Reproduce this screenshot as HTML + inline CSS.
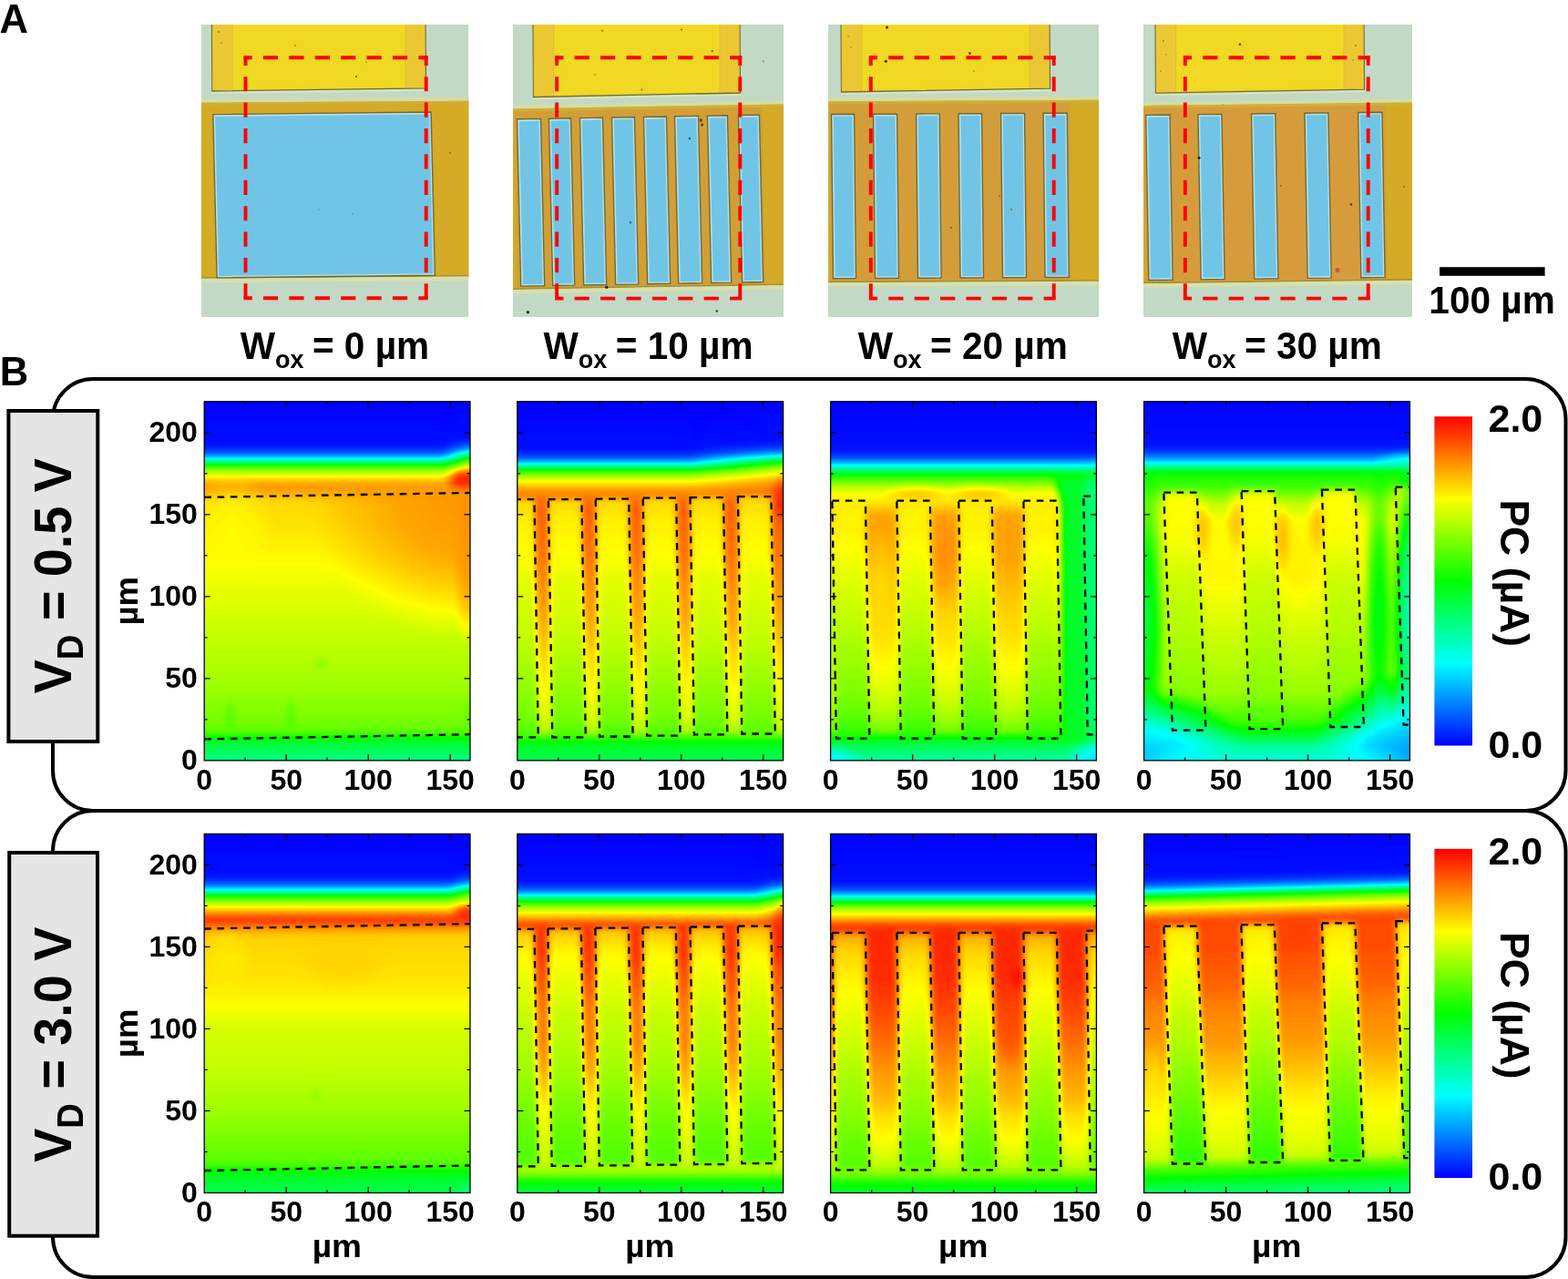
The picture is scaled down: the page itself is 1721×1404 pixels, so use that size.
<!DOCTYPE html>
<html><head><meta charset="utf-8"><title>Figure</title>
<style>
html,body{margin:0;padding:0;background:#fff;width:1721px;height:1404px;overflow:hidden;}
svg{display:block;}
text{font-family:"Liberation Sans", Arial, sans-serif;font-weight:bold;fill:#000;}
.tl{font-size:32px;}
.big{font-size:42px;}
</style></head><body>
<svg width="1721" height="1404" viewBox="0 0 1721 1404">
<defs>
<linearGradient id="hp" x1="0" y1="0" x2="0" y2="1">
<stop offset="0" stop-color="#0000ff"/><stop offset="0.15" stop-color="#0000ff"/>
<stop offset="0.18" stop-color="#00ffff"/><stop offset="0.2" stop-color="#00ff00"/>
<stop offset="0.23" stop-color="#ffff00"/><stop offset="0.26" stop-color="#ff8000"/>
<stop offset="0.5" stop-color="#ffe000"/><stop offset="1" stop-color="#00ff80"/>
</linearGradient>
<linearGradient id="cbar" x1="0" y1="1" x2="0" y2="0">
<stop offset="0" stop-color="#0000ff"/><stop offset="0.25" stop-color="#00ffff"/>
<stop offset="0.5" stop-color="#00ff00"/><stop offset="0.75" stop-color="#ffff00"/>
<stop offset="1" stop-color="#ff0000"/>
</linearGradient>

<clipPath id="mclip0"><rect x="221" y="27" width="293.4" height="320.9"/></clipPath>
<clipPath id="mclip1"><rect x="563" y="27" width="297" height="320.9"/></clipPath>
<clipPath id="mclip2"><rect x="909" y="27" width="297" height="320.9"/></clipPath>
<clipPath id="mclip3"><rect x="1255" y="27" width="295" height="320.9"/></clipPath>
<filter id="cmap2" x="-5%" y="-5%" width="110%" height="110%" color-interpolation-filters="sRGB"><feGaussianBlur stdDeviation="2"/><feComponentTransfer><feFuncR type="table" tableValues="0 0 0 1 1"/><feFuncG type="table" tableValues="0 1 1 1 0"/><feFuncB type="table" tableValues="1 1 0 0 0"/></feComponentTransfer></filter>
<filter id="cmap2.5" x="-5%" y="-5%" width="110%" height="110%" color-interpolation-filters="sRGB"><feGaussianBlur stdDeviation="2.5"/><feComponentTransfer><feFuncR type="table" tableValues="0 0 0 1 1"/><feFuncG type="table" tableValues="0 1 1 1 0"/><feFuncB type="table" tableValues="1 1 0 0 0"/></feComponentTransfer></filter>
<filter id="cmap3" x="-5%" y="-5%" width="110%" height="110%" color-interpolation-filters="sRGB"><feGaussianBlur stdDeviation="3"/><feComponentTransfer><feFuncR type="table" tableValues="0 0 0 1 1"/><feFuncG type="table" tableValues="0 1 1 1 0"/><feFuncB type="table" tableValues="1 1 0 0 0"/></feComponentTransfer></filter>
<filter id="cmap3.5" x="-5%" y="-5%" width="110%" height="110%" color-interpolation-filters="sRGB"><feGaussianBlur stdDeviation="3.5"/><feComponentTransfer><feFuncR type="table" tableValues="0 0 0 1 1"/><feFuncG type="table" tableValues="0 1 1 1 0"/><feFuncB type="table" tableValues="1 1 0 0 0"/></feComponentTransfer></filter>
<filter id="cmap4" x="-5%" y="-5%" width="110%" height="110%" color-interpolation-filters="sRGB"><feGaussianBlur stdDeviation="4"/><feComponentTransfer><feFuncR type="table" tableValues="0 0 0 1 1"/><feFuncG type="table" tableValues="0 1 1 1 0"/><feFuncB type="table" tableValues="1 1 0 0 0"/></feComponentTransfer></filter>
<filter id="cmap5" x="-5%" y="-5%" width="110%" height="110%" color-interpolation-filters="sRGB"><feGaussianBlur stdDeviation="5"/><feComponentTransfer><feFuncR type="table" tableValues="0 0 0 1 1"/><feFuncG type="table" tableValues="0 1 1 1 0"/><feFuncB type="table" tableValues="1 1 0 0 0"/></feComponentTransfer></filter>
<filter id="soft" x="-50%" y="-50%" width="200%" height="200%" color-interpolation-filters="sRGB"><feGaussianBlur stdDeviation="4"/></filter>
</defs>
<text x="-0.6" y="35.5" font-size="43.5">A</text>
<text x="-0.2" y="422.6" font-size="43.5">B</text>
<g clip-path="url(#mclip0)">
<rect x="221" y="27" width="293.4" height="320.9" fill="#C2D9C5"/>
<path d="M231.4 25L468 25L468.5 99.8L231.9 103Z" fill="#E4E8B8" opacity="0.7"/>
<path d="M232.4 25L467 25L467.5 96.8L232.9 100Z" fill="#F0D823" stroke="#6B6A3A" stroke-width="1.3"/>
<path d="M233.1 27L255.1 27L255.1 98.2L233.1 99.0Z" fill="#E8C23A" opacity="0.7"/>
<path d="M445 27L466.5 27L466.5 95.8L445 95.6Z" fill="#E8C23A" opacity="0.7"/>
<path d="M255.1 27V98.7M445 27V96.1" stroke="#D9BC3A" stroke-width="1" opacity="0.8"/>
<g transform="rotate(-0.4 367.7 208.2)">
<rect x="215" y="107.8" width="305.4" height="4" fill="#D6DCA4"/>
<rect x="215" y="111.8" width="305.4" height="192.8" fill="#D4AA26"/>
<rect x="215" y="111.8" width="305.4" height="3" fill="#CDB040" opacity="0.8"/>
<rect x="215" y="303.1" width="305.4" height="1.5" fill="#8E8A3A" opacity="0.8"/>
<rect x="215" y="304.6" width="305.4" height="4.5" fill="#D8E0AC"/>
<path d="M234.4 124.7L473.7 123.7L476.7 303L237.4 304Z" fill="#BFE0E2" stroke="#6B6A3A" stroke-width="1.4"/><path d="M236.6 127.10000000000001L471.7 126.10000000000001L474.7 301L239.6 302Z" fill="#70C5E6"/>
</g>
<circle cx="324" cy="50" r="0.9" fill="#8A7A20"/>
<circle cx="391" cy="84" r="1.1" fill="#6A5A10"/>
<circle cx="402" cy="68" r="0.8" fill="#9A8A30"/>
<circle cx="387" cy="235" r="0.8" fill="#4A86B0"/>
<circle cx="350" cy="230" r="0.7" fill="#4A86B0"/>
<circle cx="494" cy="168" r="0.9" fill="#8A6A20"/>
<circle cx="240" cy="35" r="1.0" fill="#9A7A20"/>
<circle cx="243" cy="47" r="0.8" fill="#9A7A20"/>
</g>
<g stroke="#FF0000" stroke-width="3.9" stroke-dasharray="16.2 12.2"><line x1="267.55" y1="63.2" x2="469.65" y2="63.2" stroke-dashoffset="7"/><line x1="269.5" y1="61.25" x2="269.5" y2="329.25" stroke-dashoffset="5.5"/><line x1="467.7" y1="61.25" x2="467.7" y2="329.25" stroke-dashoffset="5.5"/><line x1="267.55" y1="327.3" x2="469.65" y2="327.3" stroke-dashoffset="7"/></g>
<g clip-path="url(#mclip1)">
<rect x="563" y="27" width="297" height="320.9" fill="#C2D9C5"/>
<path d="M584 25L813 25L813.5 105L584.5 109.5Z" fill="#E4E8B8" opacity="0.7"/>
<path d="M585 25L812 25L812.5 102L585.5 106.5Z" fill="#F0D823" stroke="#6B6A3A" stroke-width="1.3"/>
<path d="M585.7 27L607.7 27L607.7 104.5L585.7 105.5Z" fill="#E8C23A" opacity="0.7"/>
<path d="M790 27L811.5 27L811.5 101.0L790 100.9Z" fill="#E8C23A" opacity="0.7"/>
<path d="M607.7 27V105.0M790 27V101.4" stroke="#D9BC3A" stroke-width="1" opacity="0.8"/>
<g transform="rotate(-1.0 711.5 216.2)">
<rect x="557" y="113" width="309" height="4" fill="#D6DCA4"/>
<rect x="557" y="117" width="309" height="198.5" fill="#D4AA26"/>
<rect x="566" y="120" width="272" height="194.5" fill="#D29F36"/>
<rect x="557" y="117" width="309" height="3" fill="#CDB040" opacity="0.8"/>
<rect x="557" y="314.0" width="309" height="1.5" fill="#8E8A3A" opacity="0.8"/>
<rect x="557" y="315.5" width="309" height="4.5" fill="#D8E0AC"/>
<path d="M569 128.3L595 128.3L596 311.7L570 311.7Z" fill="#BFE0E2" stroke="#6B6A3A" stroke-width="1.4"/><path d="M571.2 130.70000000000002L593 130.70000000000002L594 309.7L572.2 309.7Z" fill="#70C5E6"/>
<path d="M604 128.3L628 128.3L629 311.7L605 311.7Z" fill="#BFE0E2" stroke="#6B6A3A" stroke-width="1.4"/><path d="M606.2 130.70000000000002L626 130.70000000000002L627 309.7L607.2 309.7Z" fill="#70C5E6"/>
<path d="M638 128.3L663 128.3L664 311.7L639 311.7Z" fill="#BFE0E2" stroke="#6B6A3A" stroke-width="1.4"/><path d="M640.2 130.70000000000002L661 130.70000000000002L662 309.7L641.2 309.7Z" fill="#70C5E6"/>
<path d="M673 128.3L698 128.3L699 311.7L674 311.7Z" fill="#BFE0E2" stroke="#6B6A3A" stroke-width="1.4"/><path d="M675.2 130.70000000000002L696 130.70000000000002L697 309.7L676.2 309.7Z" fill="#70C5E6"/>
<path d="M708 128.3L733 128.3L734 311.7L709 311.7Z" fill="#BFE0E2" stroke="#6B6A3A" stroke-width="1.4"/><path d="M710.2 130.70000000000002L731 130.70000000000002L732 309.7L711.2 309.7Z" fill="#70C5E6"/>
<path d="M742 128.3L768 128.3L769 311.7L743 311.7Z" fill="#BFE0E2" stroke="#6B6A3A" stroke-width="1.4"/><path d="M744.2 130.70000000000002L766 130.70000000000002L767 309.7L745.2 309.7Z" fill="#70C5E6"/>
<path d="M778 128.3L800 128.3L801 311.7L779 311.7Z" fill="#BFE0E2" stroke="#6B6A3A" stroke-width="1.4"/><path d="M780.2 130.70000000000002L798 130.70000000000002L799 309.7L781.2 309.7Z" fill="#70C5E6"/>
<path d="M812 128.3L835 128.3L836 311.7L813 311.7Z" fill="#BFE0E2" stroke="#6B6A3A" stroke-width="1.4"/><path d="M814.2 130.70000000000002L833 130.70000000000002L834 309.7L815.2 309.7Z" fill="#70C5E6"/>
</g>
<circle cx="579.4" cy="342.7" r="1.6" fill="#202820"/>
<circle cx="786.8" cy="341.5" r="1.2" fill="#303830"/>
<circle cx="665.9" cy="315.3" r="1.6" fill="#202010"/>
<circle cx="769.3" cy="132.1" r="1.8" fill="#7A3A10"/>
<circle cx="770.6" cy="137.1" r="1.5" fill="#6A3010"/>
<circle cx="756.9" cy="152" r="1.3" fill="#2A5A80"/>
<circle cx="692" cy="244.3" r="1.2" fill="#3A6A90"/>
<circle cx="661" cy="33.7" r="1.0" fill="#7A6A10"/>
<circle cx="748" cy="32.4" r="1.0" fill="#7A6A10"/>
<circle cx="781.8" cy="56.1" r="1.1" fill="#6A5A10"/>
<circle cx="704.5" cy="98.5" r="1.0" fill="#7A6A10"/>
<circle cx="837.9" cy="67.3" r="1.1" fill="#8A9A90"/>
<circle cx="653" cy="82" r="0.8" fill="#9A8A30"/>
</g>
<g stroke="#FF0000" stroke-width="3.9" stroke-dasharray="16.2 12.2"><line x1="609.25" y1="63.2" x2="814.25" y2="63.2" stroke-dashoffset="7"/><line x1="611.2" y1="61.25" x2="611.2" y2="329.55" stroke-dashoffset="5.5"/><line x1="812.3" y1="61.25" x2="812.3" y2="329.55" stroke-dashoffset="5.5"/><line x1="609.25" y1="327.6" x2="814.25" y2="327.6" stroke-dashoffset="7"/></g>
<g clip-path="url(#mclip2)">
<rect x="909" y="27" width="297" height="320.9" fill="#C2D9C5"/>
<path d="M922 25L1153 25L1153.5 100.2L922.5 104Z" fill="#E4E8B8" opacity="0.7"/>
<path d="M923 25L1152 25L1152.5 97.2L923.5 101Z" fill="#F0D823" stroke="#6B6A3A" stroke-width="1.3"/>
<path d="M923.7 27L945.7 27L945.7 99.1L923.7 100.0Z" fill="#E8C23A" opacity="0.7"/>
<path d="M1130 27L1151.5 27L1151.5 96.2L1130 96.1Z" fill="#E8C23A" opacity="0.7"/>
<path d="M945.7 27V99.6M1130 27V96.6" stroke="#D9BC3A" stroke-width="1" opacity="0.8"/>
<g transform="rotate(-0.3 1057.5 210.0)">
<rect x="903" y="106.5" width="309" height="4" fill="#D6DCA4"/>
<rect x="903" y="110.5" width="309" height="199.0" fill="#D4AA26"/>
<rect x="911" y="113.5" width="264" height="195.0" fill="#D39E3A"/>
<rect x="903" y="110.5" width="309" height="3" fill="#CDB040" opacity="0.8"/>
<rect x="903" y="308.0" width="309" height="1.5" fill="#8E8A3A" opacity="0.8"/>
<rect x="903" y="309.5" width="309" height="4.5" fill="#D8E0AC"/>
<path d="M913 124.7L938 124.7L939 305L914 305Z" fill="#BFE0E2" stroke="#6B6A3A" stroke-width="1.4"/><path d="M915.2 127.10000000000001L936 127.10000000000001L937 303L916.2 303Z" fill="#70C5E6"/>
<path d="M959 124.7L985 124.7L986 305L960 305Z" fill="#BFE0E2" stroke="#6B6A3A" stroke-width="1.4"/><path d="M961.2 127.10000000000001L983 127.10000000000001L984 303L962.2 303Z" fill="#70C5E6"/>
<path d="M1006 124.7L1031.6 124.7L1032.6 305L1007 305Z" fill="#BFE0E2" stroke="#6B6A3A" stroke-width="1.4"/><path d="M1008.2 127.10000000000001L1029.6 127.10000000000001L1030.6 303L1009.2 303Z" fill="#70C5E6"/>
<path d="M1052.5 124.7L1078 124.7L1079 305L1053.5 305Z" fill="#BFE0E2" stroke="#6B6A3A" stroke-width="1.4"/><path d="M1054.7 127.10000000000001L1076 127.10000000000001L1077 303L1055.7 303Z" fill="#70C5E6"/>
<path d="M1099 124.7L1125 124.7L1126 305L1100 305Z" fill="#BFE0E2" stroke="#6B6A3A" stroke-width="1.4"/><path d="M1101.2 127.10000000000001L1123 127.10000000000001L1124 303L1102.2 303Z" fill="#70C5E6"/>
<path d="M1145.5 124.7L1171.7 124.7L1172.7 305L1146.5 305Z" fill="#BFE0E2" stroke="#6B6A3A" stroke-width="1.4"/><path d="M1147.7 127.10000000000001L1169.7 127.10000000000001L1170.7 303L1148.7 303Z" fill="#70C5E6"/>
</g>
<circle cx="973.5" cy="30" r="1.5" fill="#302810"/>
<circle cx="972.3" cy="67.3" r="1.5" fill="#302810"/>
<circle cx="1064.5" cy="58.6" r="1.3" fill="#403010"/>
<circle cx="1069" cy="78" r="0.8" fill="#8A7A20"/>
<circle cx="931" cy="40" r="0.8" fill="#9A7A20"/>
<circle cx="934" cy="52" r="0.8" fill="#9A7A20"/>
<circle cx="1097" cy="215" r="1.0" fill="#8A6A20"/>
<circle cx="1110" cy="230" r="0.9" fill="#8A6A20"/>
<circle cx="1044" cy="250" r="1.1" fill="#8A5A20"/>
</g>
<g stroke="#FF0000" stroke-width="3.9" stroke-dasharray="16.2 12.2"><line x1="953.8499999999999" y1="63.2" x2="1158.65" y2="63.2" stroke-dashoffset="7"/><line x1="955.8" y1="61.25" x2="955.8" y2="329.55" stroke-dashoffset="5.5"/><line x1="1156.7" y1="61.25" x2="1156.7" y2="329.55" stroke-dashoffset="5.5"/><line x1="953.8499999999999" y1="327.6" x2="1158.65" y2="327.6" stroke-dashoffset="7"/></g>
<g clip-path="url(#mclip3)">
<rect x="1255" y="27" width="295" height="320.9" fill="#C2D9C5"/>
<path d="M1267 25L1498 25L1498.5 101.1L1267.5 105.2Z" fill="#E4E8B8" opacity="0.7"/>
<path d="M1268 25L1497 25L1497.5 98.1L1268.5 102.2Z" fill="#F0D823" stroke="#6B6A3A" stroke-width="1.3"/>
<path d="M1268.7 27L1290.7 27L1290.7 100.3L1268.7 101.2Z" fill="#E8C23A" opacity="0.7"/>
<path d="M1475 27L1496.5 27L1496.5 97.1L1475 97.0Z" fill="#E8C23A" opacity="0.7"/>
<path d="M1290.7 27V100.8M1475 27V97.5" stroke="#D9BC3A" stroke-width="1" opacity="0.8"/>
<g transform="rotate(-0.7 1402.5 211.8)">
<rect x="1249" y="110.2" width="307" height="4" fill="#D6DCA4"/>
<rect x="1249" y="114.2" width="307" height="195.3" fill="#D4AA26"/>
<rect x="1256" y="117.2" width="265" height="191.3" fill="#D69C3C"/>
<rect x="1249" y="114.2" width="307" height="3" fill="#CDB040" opacity="0.8"/>
<rect x="1249" y="308.0" width="307" height="1.5" fill="#8E8A3A" opacity="0.8"/>
<rect x="1249" y="309.5" width="307" height="4.5" fill="#D8E0AC"/>
<path d="M1258.7 124.6L1285 124.6L1286 305.8L1259.7 305.8Z" fill="#BFE0E2" stroke="#6B6A3A" stroke-width="1.4"/><path d="M1260.9 127.0L1283 127.0L1284 303.8L1261.9 303.8Z" fill="#70C5E6"/>
<path d="M1316 124.6L1342 124.6L1343 305.8L1317 305.8Z" fill="#BFE0E2" stroke="#6B6A3A" stroke-width="1.4"/><path d="M1318.2 127.0L1340 127.0L1341 303.8L1319.2 303.8Z" fill="#70C5E6"/>
<path d="M1374.6 124.6L1400.8 124.6L1401.8 305.8L1375.6 305.8Z" fill="#BFE0E2" stroke="#6B6A3A" stroke-width="1.4"/><path d="M1376.8 127.0L1398.8 127.0L1399.8 303.8L1377.8 303.8Z" fill="#70C5E6"/>
<path d="M1433 124.6L1459 124.6L1460 305.8L1434 305.8Z" fill="#BFE0E2" stroke="#6B6A3A" stroke-width="1.4"/><path d="M1435.2 127.0L1457 127.0L1458 303.8L1436.2 303.8Z" fill="#70C5E6"/>
<path d="M1491.7 124.6L1518 124.6L1519 305.8L1492.7 305.8Z" fill="#BFE0E2" stroke="#6B6A3A" stroke-width="1.4"/><path d="M1493.9 127.0L1516 127.0L1517 303.8L1494.9 303.8Z" fill="#70C5E6"/>
</g>
<circle cx="1360.9" cy="48.6" r="1.3" fill="#5A4A10"/>
<circle cx="1316" cy="173.3" r="1.5" fill="#302010"/>
<circle cx="1483" cy="224.4" r="1.2" fill="#403010"/>
<circle cx="1468" cy="296.6" r="2.6" fill="#C06040"/>
<circle cx="1277" cy="45" r="0.9" fill="#9A7A20"/>
<circle cx="1280" cy="60" r="0.8" fill="#9A7A20"/>
<circle cx="1274" cy="78" r="0.8" fill="#9A7A20"/>
<circle cx="1488" cy="50" r="0.9" fill="#9A7A20"/>
<circle cx="1485" cy="66" r="0.8" fill="#9A7A20"/>
<circle cx="1406" cy="204" r="0.9" fill="#8A6A20"/>
<circle cx="1541" cy="205" r="0.9" fill="#8A6A20"/>
<circle cx="1342" cy="115" r="0.8" fill="#8A8A80"/>
</g>
<g stroke="#FF0000" stroke-width="3.9" stroke-dasharray="16.2 12.2"><line x1="1298.85" y1="63.2" x2="1503.65" y2="63.2" stroke-dashoffset="7"/><line x1="1300.8" y1="61.25" x2="1300.8" y2="329.55" stroke-dashoffset="5.5"/><line x1="1501.7" y1="61.25" x2="1501.7" y2="329.55" stroke-dashoffset="5.5"/><line x1="1298.85" y1="327.6" x2="1503.65" y2="327.6" stroke-dashoffset="7"/></g>
<text transform="translate(367.4 394.3) scale(0.966 1)" x="0" y="0" class="big" text-anchor="middle">W<tspan font-size="28" dy="9.3">ox</tspan><tspan dy="-9.3" dx="-2"> = 0 µm</tspan></text>
<text transform="translate(711.5 394.3) scale(0.966 1)" x="0" y="0" class="big" text-anchor="middle">W<tspan font-size="28" dy="9.3">ox</tspan><tspan dy="-9.3" dx="-2"> = 10 µm</tspan></text>
<text transform="translate(1056.8 394.3) scale(0.966 1)" x="0" y="0" class="big" text-anchor="middle">W<tspan font-size="28" dy="9.3">ox</tspan><tspan dy="-9.3" dx="-2"> = 20 µm</tspan></text>
<text transform="translate(1401.8 394.3) scale(0.966 1)" x="0" y="0" class="big" text-anchor="middle">W<tspan font-size="28" dy="9.3">ox</tspan><tspan dy="-9.3" dx="-2"> = 30 µm</tspan></text>
<rect x="1580" y="293.2" width="115.6" height="9.6" fill="#000"/>
<text transform="translate(1637.6 344.0) scale(0.967 1)" class="big" text-anchor="middle">100 µm</text>
<path d="M102 416H1674.5A44 44 0 0 1 1718.5 460V846A44 44 0 0 1 1674.5 890H102A44 44 0 0 1 58 846V460A44 44 0 0 1 102 416Z" fill="none" stroke="#000" stroke-width="4"/>
<path d="M102 890H1674.5A44 44 0 0 1 1718.5 934V1358A44 44 0 0 1 1674.5 1402H102A44 44 0 0 1 58 1358V934A44 44 0 0 1 102 890Z" fill="none" stroke="#000" stroke-width="4"/>
<rect x="9.4" y="451" width="97.9" height="363" fill="#E6E5E6" stroke="#000" stroke-width="4"/>
<rect x="10.2" y="936" width="96.8" height="420.7" fill="#E6E5E6" stroke="#000" stroke-width="4"/>
<text transform="translate(78.0 632.3) rotate(-90) scale(0.959 1)" text-anchor="middle" font-size="58">V<tspan font-size="40" dy="12.8">D</tspan><tspan dy="-12.8"> = 0.5 V</tspan></text>
<text transform="translate(78.0 1146.8) rotate(-90) scale(0.959 1)" text-anchor="middle" font-size="58">V<tspan font-size="40" dy="12.8">D</tspan><tspan dy="-12.8"> = 3.0 V</tspan></text>
<clipPath id="cliph00"><rect x="224.2" y="440.8" width="291.8" height="394.0"/></clipPath>
<g clip-path="url(#cliph00)"><g filter="url(#cmap3)">
<rect x="209.2" y="425.8" width="321.8" height="424.0" fill="url(#h00b)"/>
<rect x="209.2" y="425.8" width="321.8" height="115" fill="url(#h00s0)" mask="url(#h00s0m)"/>
<ellipse cx="516.2" cy="550.8" rx="175" ry="150" fill="url(#h00g0)" clip-path="url(#h00g0c)"/>
<ellipse cx="511.2" cy="526.8" rx="24" ry="15" fill="url(#h00g1)"/>
<ellipse cx="513.2" cy="610.8" rx="16" ry="100" fill="url(#h00g2)"/>
<ellipse cx="254.2" cy="580.8" rx="50" ry="60" fill="url(#h00g3)"/>
<ellipse cx="252.2" cy="785.8" rx="7" ry="22" fill="url(#h00g4)"/>
<ellipse cx="319.2" cy="785.8" rx="7" ry="22" fill="url(#h00g5)"/>
<ellipse cx="352.2" cy="728.8" rx="9" ry="9" fill="url(#h00g6)"/>
<ellipse cx="515.2" cy="785.8" rx="5" ry="20" fill="url(#h00g7)"/>
</g></g>
<g clip-path="url(#cliph00)" fill="none" stroke="#000" stroke-width="2.3" stroke-dasharray="7.7 6.6"><line x1="224.2" y1="545.9" x2="516.0" y2="541.0"/><line x1="224.2" y1="811.4" x2="516.0" y2="806.2"/></g>
<rect x="224.2" y="440.8" width="291.8" height="394.0" fill="none" stroke="#000" stroke-width="1.3"/>
<path d="M269.2 834.8v-3.4M269.2 440.8v3.4M314.2 834.8v-6.5M314.2 440.8v6.5M359.2 834.8v-3.4M359.2 440.8v3.4M404.2 834.8v-6.5M404.2 440.8v6.5M449.2 834.8v-3.4M449.2 440.8v3.4M494.2 834.8v-6.5M494.2 440.8v6.5M224.2 789.8h3.4M516.0 789.8h-3.4M224.2 744.8h6.5M516.0 744.8h-6.5M224.2 699.8h3.4M516.0 699.8h-3.4M224.2 654.8h6.5M516.0 654.8h-6.5M224.2 609.8h3.4M516.0 609.8h-3.4M224.2 564.8h6.5M516.0 564.8h-6.5M224.2 519.8h3.4M516.0 519.8h-3.4M224.2 474.8h6.5M516.0 474.8h-6.5" stroke="#000" stroke-width="1.3" fill="none"/>
<text x="224.2" y="866.8" class="tl" text-anchor="middle">0</text>
<text x="314.2" y="866.8" class="tl" text-anchor="middle">50</text>
<text x="404.2" y="866.8" class="tl" text-anchor="middle">100</text>
<text x="494.2" y="866.8" class="tl" text-anchor="middle">150</text>
<text x="216.8" y="845.2" class="tl" text-anchor="end">0</text>
<text x="216.8" y="755.2" class="tl" text-anchor="end">50</text>
<text x="216.8" y="665.2" class="tl" text-anchor="end">100</text>
<text x="216.8" y="575.2" class="tl" text-anchor="end">150</text>
<text x="216.8" y="485.2" class="tl" text-anchor="end">200</text>
<clipPath id="cliph01"><rect x="567.8" y="440.8" width="291.8" height="394.0"/></clipPath>
<g clip-path="url(#cliph01)"><g filter="url(#cmap3)">
<rect x="552.8" y="425.8" width="321.8" height="424.0" fill="url(#h01b)"/>
<rect x="552.8" y="425.8" width="321.8" height="115" fill="url(#h01s0)" mask="url(#h01s0m)"/>
<polygon points="549.9,548.2 586.4,548.2 590.8,809.4 554.3,809.4" fill="url(#h01i)"/>
<polygon points="601.9,548.2 638.4,548.2 642.8,809.4 606.3,809.4" fill="url(#h01i)"/>
<polygon points="653.7,547.6 690.2,547.6 694.6,808.5 658.1,808.5" fill="url(#h01i)"/>
<polygon points="705.7,546.7 742.2,546.7 746.6,807.6 710.1,807.6" fill="url(#h01i)"/>
<polygon points="757.5,546.1 794.0,546.1 798.4,806.4 761.9,806.4" fill="url(#h01i)"/>
<polygon points="809.9,545.2 846.4,545.2 850.8,805.5 814.3,805.5" fill="url(#h01i)"/>
<ellipse cx="858.8" cy="548.8" rx="14" ry="28" fill="url(#h01g0)"/>
</g></g>
<g clip-path="url(#cliph01)" fill="none" stroke="#000" stroke-width="2.3" stroke-dasharray="7.7 6.6"><polygon points="549.9,548.2 586.4,548.2 590.8,809.4 554.3,809.4"/><polygon points="601.9,548.2 638.4,548.2 642.8,809.4 606.3,809.4"/><polygon points="653.7,547.6 690.2,547.6 694.6,808.5 658.1,808.5"/><polygon points="705.7,546.7 742.2,546.7 746.6,807.6 710.1,807.6"/><polygon points="757.5,546.1 794.0,546.1 798.4,806.4 761.9,806.4"/><polygon points="809.9,545.2 846.4,545.2 850.8,805.5 814.3,805.5"/></g>
<rect x="567.8" y="440.8" width="291.8" height="394.0" fill="none" stroke="#000" stroke-width="1.3"/>
<path d="M612.8 834.8v-3.4M612.8 440.8v3.4M657.8 834.8v-6.5M657.8 440.8v6.5M702.8 834.8v-3.4M702.8 440.8v3.4M747.8 834.8v-6.5M747.8 440.8v6.5M792.8 834.8v-3.4M792.8 440.8v3.4M837.8 834.8v-6.5M837.8 440.8v6.5M567.8 789.8h3.4M859.5999999999999 789.8h-3.4M567.8 744.8h6.5M859.5999999999999 744.8h-6.5M567.8 699.8h3.4M859.5999999999999 699.8h-3.4M567.8 654.8h6.5M859.5999999999999 654.8h-6.5M567.8 609.8h3.4M859.5999999999999 609.8h-3.4M567.8 564.8h6.5M859.5999999999999 564.8h-6.5M567.8 519.8h3.4M859.5999999999999 519.8h-3.4M567.8 474.8h6.5M859.5999999999999 474.8h-6.5" stroke="#000" stroke-width="1.3" fill="none"/>
<text x="567.8" y="866.8" class="tl" text-anchor="middle">0</text>
<text x="657.8" y="866.8" class="tl" text-anchor="middle">50</text>
<text x="747.8" y="866.8" class="tl" text-anchor="middle">100</text>
<text x="837.8" y="866.8" class="tl" text-anchor="middle">150</text>
<clipPath id="cliph02"><rect x="911.6" y="440.8" width="291.8" height="394.0"/></clipPath>
<g clip-path="url(#cliph02)"><g filter="url(#cmap3.5)">
<rect x="896.6" y="425.8" width="321.8" height="424.0" fill="url(#h02b)"/>
<polygon points="913.4,549.7 949.9,549.7 954.4,810.6 917.9,810.6" fill="url(#h02i)"/>
<polygon points="984.3,549.7 1020.8,549.7 1025.3,810.6 988.8,810.6" fill="url(#h02i)"/>
<polygon points="1052.2,549.7 1088.7,549.7 1093.2,810.6 1056.7,810.6" fill="url(#h02i)"/>
<polygon points="1123.4,549.7 1159.9,549.7 1164.4,810.6 1127.9,810.6" fill="url(#h02i)"/>
<polygon points="1189.3,544.6 1225.8,544.6 1230.3,806.4 1193.8,806.4" fill="url(#h02i)"/>
<ellipse cx="1006.6" cy="541.8" rx="42" ry="10" fill="url(#h02g0)"/>
<ellipse cx="1074.6" cy="541.8" rx="42" ry="10" fill="url(#h02g1)"/>
<ellipse cx="941.6" cy="543.8" rx="30" ry="8" fill="url(#h02g2)"/>
<ellipse cx="1143.6" cy="543.8" rx="26" ry="8" fill="url(#h02g3)"/>
<ellipse cx="1037.6" cy="610.8" rx="18" ry="60" fill="url(#h02g4)"/>
<ellipse cx="1107.6" cy="600.8" rx="18" ry="50" fill="url(#h02g5)"/>
<ellipse cx="967.6" cy="640.8" rx="18" ry="60" fill="url(#h02g6)"/>
<ellipse cx="1203.6" cy="680.8" rx="20" ry="190" fill="url(#h02g7)"/>
<ellipse cx="907.6" cy="680.8" rx="10" ry="150" fill="url(#h02g8)"/>
<ellipse cx="911.6" cy="834.8" rx="38" ry="18" fill="url(#h02g9)"/>
<ellipse cx="1203.6" cy="834.8" rx="34" ry="26" fill="url(#h02g10)"/>
<polygon points="1157.6,524.8 1189.6,524.8 1193.6,808.8 1166.6,810.8 1164.6,550.8" fill="#757575" opacity="1.0"/>
<polygon points="1189.6,524.8 1211.6,524.8 1211.6,806.8 1193.6,806.8" fill="#636363" opacity="1.0"/>
</g></g>
<g clip-path="url(#cliph02)" fill="none" stroke="#000" stroke-width="2.3" stroke-dasharray="7.7 6.6"><polygon points="913.4,549.7 949.9,549.7 954.4,810.6 917.9,810.6"/><polygon points="984.3,549.7 1020.8,549.7 1025.3,810.6 988.8,810.6"/><polygon points="1052.2,549.7 1088.7,549.7 1093.2,810.6 1056.7,810.6"/><polygon points="1123.4,549.7 1159.9,549.7 1164.4,810.6 1127.9,810.6"/><polygon points="1189.3,544.6 1225.8,544.6 1230.3,806.4 1193.8,806.4"/></g>
<rect x="911.6" y="440.8" width="291.8" height="394.0" fill="none" stroke="#000" stroke-width="1.3"/>
<path d="M956.6 834.8v-3.4M956.6 440.8v3.4M1001.6 834.8v-6.5M1001.6 440.8v6.5M1046.6 834.8v-3.4M1046.6 440.8v3.4M1091.6 834.8v-6.5M1091.6 440.8v6.5M1136.6 834.8v-3.4M1136.6 440.8v3.4M1181.6 834.8v-6.5M1181.6 440.8v6.5M911.6 789.8h3.4M1203.4 789.8h-3.4M911.6 744.8h6.5M1203.4 744.8h-6.5M911.6 699.8h3.4M1203.4 699.8h-3.4M911.6 654.8h6.5M1203.4 654.8h-6.5M911.6 609.8h3.4M1203.4 609.8h-3.4M911.6 564.8h6.5M1203.4 564.8h-6.5M911.6 519.8h3.4M1203.4 519.8h-3.4M911.6 474.8h6.5M1203.4 474.8h-6.5" stroke="#000" stroke-width="1.3" fill="none"/>
<text x="911.6" y="866.8" class="tl" text-anchor="middle">0</text>
<text x="1001.6" y="866.8" class="tl" text-anchor="middle">50</text>
<text x="1091.6" y="866.8" class="tl" text-anchor="middle">100</text>
<text x="1181.6" y="866.8" class="tl" text-anchor="middle">150</text>
<clipPath id="cliph03"><rect x="1255.6" y="440.8" width="291.8" height="394.0"/></clipPath>
<g clip-path="url(#cliph03)"><g filter="url(#cmap3.5)">
<rect x="1240.6" y="425.8" width="321.8" height="424.0" fill="url(#h03b)"/>
<polygon points="1277.3,540.7 1313.8,540.7 1323.4,801.6 1286.9,801.6" fill="url(#h03i)"/>
<polygon points="1362.6,539.2 1399.1,539.2 1408.1,800.1 1371.6,800.1" fill="url(#h03i)"/>
<polygon points="1450.9,537.7 1487.4,537.7 1496.9,798.0 1460.4,798.0" fill="url(#h03i)"/>
<polygon points="1531.7,534.7 1568.2,534.7 1577.1,795.6 1540.6,795.6" fill="url(#h03i)"/>
<ellipse cx="1319.6" cy="580.8" rx="11" ry="40" fill="url(#h03g0)"/>
<ellipse cx="1356.6" cy="570.8" rx="11" ry="40" fill="url(#h03g1)"/>
<ellipse cx="1407.6" cy="590.8" rx="11" ry="45" fill="url(#h03g2)"/>
<ellipse cx="1445.6" cy="575.8" rx="11" ry="40" fill="url(#h03g3)"/>
<ellipse cx="1425.6" cy="620.8" rx="16" ry="60" fill="url(#h03g4)"/>
<ellipse cx="1547.6" cy="504.8" rx="40" ry="10" fill="url(#h03g5)"/>
<ellipse cx="1257.6" cy="675.8" rx="24" ry="175" fill="url(#h03g6)"/>
<ellipse cx="1513.6" cy="670.8" rx="18" ry="170" fill="url(#h03g7)"/>
<ellipse cx="1547.6" cy="670.8" rx="22" ry="170" fill="url(#h03g8)"/>
<ellipse cx="1255.6" cy="834.8" rx="115" ry="80" fill="url(#h03g9)"/>
<ellipse cx="1547.6" cy="834.8" rx="110" ry="100" fill="url(#h03g10)"/>
<ellipse cx="1401.6" cy="838.8" rx="165" ry="28" fill="url(#h03g11)"/>
</g></g>
<g clip-path="url(#cliph03)" fill="none" stroke="#000" stroke-width="2.3" stroke-dasharray="7.7 6.6"><polygon points="1277.3,540.7 1313.8,540.7 1323.4,801.6 1286.9,801.6"/><polygon points="1362.6,539.2 1399.1,539.2 1408.1,800.1 1371.6,800.1"/><polygon points="1450.9,537.7 1487.4,537.7 1496.9,798.0 1460.4,798.0"/><polygon points="1531.7,534.7 1568.2,534.7 1577.1,795.6 1540.6,795.6"/></g>
<rect x="1255.6" y="440.8" width="291.8" height="394.0" fill="none" stroke="#000" stroke-width="1.3"/>
<path d="M1300.6 834.8v-3.4M1300.6 440.8v3.4M1345.6 834.8v-6.5M1345.6 440.8v6.5M1390.6 834.8v-3.4M1390.6 440.8v3.4M1435.6 834.8v-6.5M1435.6 440.8v6.5M1480.6 834.8v-3.4M1480.6 440.8v3.4M1525.6 834.8v-6.5M1525.6 440.8v6.5M1255.6 789.8h3.4M1547.3999999999999 789.8h-3.4M1255.6 744.8h6.5M1547.3999999999999 744.8h-6.5M1255.6 699.8h3.4M1547.3999999999999 699.8h-3.4M1255.6 654.8h6.5M1547.3999999999999 654.8h-6.5M1255.6 609.8h3.4M1547.3999999999999 609.8h-3.4M1255.6 564.8h6.5M1547.3999999999999 564.8h-6.5M1255.6 519.8h3.4M1547.3999999999999 519.8h-3.4M1255.6 474.8h6.5M1547.3999999999999 474.8h-6.5" stroke="#000" stroke-width="1.3" fill="none"/>
<text x="1255.6" y="866.8" class="tl" text-anchor="middle">0</text>
<text x="1345.6" y="866.8" class="tl" text-anchor="middle">50</text>
<text x="1435.6" y="866.8" class="tl" text-anchor="middle">100</text>
<text x="1525.6" y="866.8" class="tl" text-anchor="middle">150</text>
<text transform="translate(151.3 659.8) rotate(-90) scale(1.045 1)" text-anchor="middle" font-size="35">µm</text>
<rect x="1574.4" y="457.2" width="41.6" height="361.3" fill="url(#cbar)"/>
<text x="1633.5" y="474.3" font-size="43">2.0</text>
<text x="1633.5" y="831.6" font-size="43">0.0</text>
<text transform="translate(1647 629.2) rotate(90)" text-anchor="middle" font-size="44.5">PC (µA)</text>
<clipPath id="cliph10"><rect x="224.2" y="915.4" width="291.8" height="394.0"/></clipPath>
<g clip-path="url(#cliph10)"><g filter="url(#cmap3)">
<rect x="209.2" y="900.4" width="321.8" height="424.0" fill="url(#h10b)"/>
<rect x="209.2" y="900.4" width="321.8" height="105" fill="url(#h10s0)" mask="url(#h10s0m)"/>
<ellipse cx="512.2" cy="1001.4" rx="18" ry="10" fill="url(#h10g0)"/>
<ellipse cx="377.2" cy="1059.4" rx="50" ry="30" fill="url(#h10g1)"/>
<ellipse cx="249.2" cy="1055.4" rx="30" ry="40" fill="url(#h10g2)"/>
<ellipse cx="347.2" cy="1201.4" rx="8" ry="8" fill="url(#h10g3)"/>
<ellipse cx="514.2" cy="1309.4" rx="14" ry="14" fill="url(#h10g4)"/>
</g></g>
<g clip-path="url(#cliph10)" fill="none" stroke="#000" stroke-width="2.3" stroke-dasharray="7.7 6.6"><line x1="224.2" y1="1019.5" x2="516.0" y2="1014.1"/><line x1="224.2" y1="1285.0" x2="516.0" y2="1279.4"/></g>
<rect x="224.2" y="915.4" width="291.8" height="394.0" fill="none" stroke="#000" stroke-width="1.3"/>
<path d="M269.2 1309.4v-3.4M269.2 915.4v3.4M314.2 1309.4v-6.5M314.2 915.4v6.5M359.2 1309.4v-3.4M359.2 915.4v3.4M404.2 1309.4v-6.5M404.2 915.4v6.5M449.2 1309.4v-3.4M449.2 915.4v3.4M494.2 1309.4v-6.5M494.2 915.4v6.5M224.2 1264.4h3.4M516.0 1264.4h-3.4M224.2 1219.4h6.5M516.0 1219.4h-6.5M224.2 1174.4h3.4M516.0 1174.4h-3.4M224.2 1129.4h6.5M516.0 1129.4h-6.5M224.2 1084.4h3.4M516.0 1084.4h-3.4M224.2 1039.4h6.5M516.0 1039.4h-6.5M224.2 994.4h3.4M516.0 994.4h-3.4M224.2 949.4h6.5M516.0 949.4h-6.5" stroke="#000" stroke-width="1.3" fill="none"/>
<text x="224.2" y="1341.4" class="tl" text-anchor="middle">0</text>
<text x="314.2" y="1341.4" class="tl" text-anchor="middle">50</text>
<text x="404.2" y="1341.4" class="tl" text-anchor="middle">100</text>
<text x="494.2" y="1341.4" class="tl" text-anchor="middle">150</text>
<text x="216.8" y="1319.8" class="tl" text-anchor="end">0</text>
<text x="216.8" y="1229.8" class="tl" text-anchor="end">50</text>
<text x="216.8" y="1139.8" class="tl" text-anchor="end">100</text>
<text x="216.8" y="1049.8" class="tl" text-anchor="end">150</text>
<text x="216.8" y="959.8" class="tl" text-anchor="end">200</text>
<clipPath id="cliph11"><rect x="567.8" y="915.4" width="291.8" height="394.0"/></clipPath>
<g clip-path="url(#cliph11)"><g filter="url(#cmap3)">
<rect x="552.8" y="900.4" width="321.8" height="424.0" fill="url(#h11b)"/>
<rect x="552.8" y="900.4" width="321.8" height="110" fill="url(#h11s0)" mask="url(#h11s0m)"/>
<polygon points="549.9,1019.9 586.4,1019.9 590.8,1280.4 554.3,1280.4" fill="url(#h11i)"/>
<polygon points="601.3,1019.3 637.8,1019.3 642.2,1279.9 605.7,1279.9" fill="url(#h11i)"/>
<polygon points="653.4,1018.7 689.9,1018.7 694.3,1279.3 657.8,1279.3" fill="url(#h11i)"/>
<polygon points="705.4,1018.1 741.9,1018.1 746.3,1278.7 709.8,1278.7" fill="url(#h11i)"/>
<polygon points="757.5,1017.5 794.0,1017.5 798.4,1278.1 761.9,1278.1" fill="url(#h11i)"/>
<polygon points="809.9,1016.6 846.4,1016.6 850.8,1277.2 814.3,1277.2" fill="url(#h11i)"/>
<ellipse cx="858.8" cy="1025.4" rx="14" ry="40" fill="url(#h11g0)"/>
</g></g>
<g clip-path="url(#cliph11)" fill="none" stroke="#000" stroke-width="2.3" stroke-dasharray="7.7 6.6"><polygon points="549.9,1019.9 586.4,1019.9 590.8,1280.4 554.3,1280.4"/><polygon points="601.3,1019.3 637.8,1019.3 642.2,1279.9 605.7,1279.9"/><polygon points="653.4,1018.7 689.9,1018.7 694.3,1279.3 657.8,1279.3"/><polygon points="705.4,1018.1 741.9,1018.1 746.3,1278.7 709.8,1278.7"/><polygon points="757.5,1017.5 794.0,1017.5 798.4,1278.1 761.9,1278.1"/><polygon points="809.9,1016.6 846.4,1016.6 850.8,1277.2 814.3,1277.2"/></g>
<rect x="567.8" y="915.4" width="291.8" height="394.0" fill="none" stroke="#000" stroke-width="1.3"/>
<path d="M612.8 1309.4v-3.4M612.8 915.4v3.4M657.8 1309.4v-6.5M657.8 915.4v6.5M702.8 1309.4v-3.4M702.8 915.4v3.4M747.8 1309.4v-6.5M747.8 915.4v6.5M792.8 1309.4v-3.4M792.8 915.4v3.4M837.8 1309.4v-6.5M837.8 915.4v6.5M567.8 1264.4h3.4M859.5999999999999 1264.4h-3.4M567.8 1219.4h6.5M859.5999999999999 1219.4h-6.5M567.8 1174.4h3.4M859.5999999999999 1174.4h-3.4M567.8 1129.4h6.5M859.5999999999999 1129.4h-6.5M567.8 1084.4h3.4M859.5999999999999 1084.4h-3.4M567.8 1039.4h6.5M859.5999999999999 1039.4h-6.5M567.8 994.4h3.4M859.5999999999999 994.4h-3.4M567.8 949.4h6.5M859.5999999999999 949.4h-6.5" stroke="#000" stroke-width="1.3" fill="none"/>
<text x="567.8" y="1341.4" class="tl" text-anchor="middle">0</text>
<text x="657.8" y="1341.4" class="tl" text-anchor="middle">50</text>
<text x="747.8" y="1341.4" class="tl" text-anchor="middle">100</text>
<text x="837.8" y="1341.4" class="tl" text-anchor="middle">150</text>
<clipPath id="cliph12"><rect x="911.6" y="915.4" width="291.8" height="394.0"/></clipPath>
<g clip-path="url(#cliph12)"><g filter="url(#cmap3.5)">
<rect x="896.6" y="900.4" width="321.8" height="424.0" fill="url(#h12b)"/>
<polygon points="913.4,1023.8 949.9,1023.8 954.4,1284.4 917.9,1284.4" fill="url(#h12i)"/>
<polygon points="984.3,1023.8 1020.8,1023.8 1025.3,1284.4 988.8,1284.4" fill="url(#h12i)"/>
<polygon points="1052.2,1023.8 1088.7,1023.8 1093.2,1284.4 1056.7,1284.4" fill="url(#h12i)"/>
<polygon points="1123.4,1023.8 1159.9,1023.8 1164.4,1284.4 1127.9,1284.4" fill="url(#h12i)"/>
<polygon points="1192.3,1021.7 1228.8,1021.7 1233.3,1283.8 1196.8,1283.8" fill="url(#h12i)"/>
<ellipse cx="1117.6" cy="1073.4" rx="10" ry="14" fill="url(#h12g0)"/>
<ellipse cx="1107.6" cy="1135.4" rx="16" ry="40" fill="url(#h12g1)"/>
</g></g>
<g clip-path="url(#cliph12)" fill="none" stroke="#000" stroke-width="2.3" stroke-dasharray="7.7 6.6"><polygon points="913.4,1023.8 949.9,1023.8 954.4,1284.4 917.9,1284.4"/><polygon points="984.3,1023.8 1020.8,1023.8 1025.3,1284.4 988.8,1284.4"/><polygon points="1052.2,1023.8 1088.7,1023.8 1093.2,1284.4 1056.7,1284.4"/><polygon points="1123.4,1023.8 1159.9,1023.8 1164.4,1284.4 1127.9,1284.4"/><polygon points="1192.3,1021.7 1228.8,1021.7 1233.3,1283.8 1196.8,1283.8"/></g>
<rect x="911.6" y="915.4" width="291.8" height="394.0" fill="none" stroke="#000" stroke-width="1.3"/>
<path d="M956.6 1309.4v-3.4M956.6 915.4v3.4M1001.6 1309.4v-6.5M1001.6 915.4v6.5M1046.6 1309.4v-3.4M1046.6 915.4v3.4M1091.6 1309.4v-6.5M1091.6 915.4v6.5M1136.6 1309.4v-3.4M1136.6 915.4v3.4M1181.6 1309.4v-6.5M1181.6 915.4v6.5M911.6 1264.4h3.4M1203.4 1264.4h-3.4M911.6 1219.4h6.5M1203.4 1219.4h-6.5M911.6 1174.4h3.4M1203.4 1174.4h-3.4M911.6 1129.4h6.5M1203.4 1129.4h-6.5M911.6 1084.4h3.4M1203.4 1084.4h-3.4M911.6 1039.4h6.5M1203.4 1039.4h-6.5M911.6 994.4h3.4M1203.4 994.4h-3.4M911.6 949.4h6.5M1203.4 949.4h-6.5" stroke="#000" stroke-width="1.3" fill="none"/>
<text x="911.6" y="1341.4" class="tl" text-anchor="middle">0</text>
<text x="1001.6" y="1341.4" class="tl" text-anchor="middle">50</text>
<text x="1091.6" y="1341.4" class="tl" text-anchor="middle">100</text>
<text x="1181.6" y="1341.4" class="tl" text-anchor="middle">150</text>
<clipPath id="cliph13"><rect x="1255.6" y="915.4" width="291.8" height="394.0"/></clipPath>
<g clip-path="url(#cliph13)"><g filter="url(#cmap3)">
<rect x="1240.6" y="900.4" width="321.8" height="424.0" fill="url(#h13b)"/>
<polygon points="1277.3,1016.6 1313.8,1016.6 1323.4,1277.5 1286.9,1277.5" fill="url(#h13i)"/>
<polygon points="1362.3,1015.1 1398.8,1015.1 1408.1,1276.0 1371.6,1276.0" fill="url(#h13i)"/>
<polygon points="1450.9,1013.3 1487.4,1013.3 1496.4,1273.9 1459.9,1273.9" fill="url(#h13i)"/>
<polygon points="1532.3,1011.2 1568.8,1011.2 1577.8,1271.2 1541.3,1271.2" fill="url(#h13i)"/>
<ellipse cx="1265.6" cy="1195.4" rx="14" ry="60" fill="url(#h13g0)"/>
<ellipse cx="1425.6" cy="1025.4" rx="30" ry="25" fill="url(#h13g1)"/>
</g></g>
<g clip-path="url(#cliph13)" fill="none" stroke="#000" stroke-width="2.3" stroke-dasharray="7.7 6.6"><polygon points="1277.3,1016.6 1313.8,1016.6 1323.4,1277.5 1286.9,1277.5"/><polygon points="1362.3,1015.1 1398.8,1015.1 1408.1,1276.0 1371.6,1276.0"/><polygon points="1450.9,1013.3 1487.4,1013.3 1496.4,1273.9 1459.9,1273.9"/><polygon points="1532.3,1011.2 1568.8,1011.2 1577.8,1271.2 1541.3,1271.2"/></g>
<rect x="1255.6" y="915.4" width="291.8" height="394.0" fill="none" stroke="#000" stroke-width="1.3"/>
<path d="M1300.6 1309.4v-3.4M1300.6 915.4v3.4M1345.6 1309.4v-6.5M1345.6 915.4v6.5M1390.6 1309.4v-3.4M1390.6 915.4v3.4M1435.6 1309.4v-6.5M1435.6 915.4v6.5M1480.6 1309.4v-3.4M1480.6 915.4v3.4M1525.6 1309.4v-6.5M1525.6 915.4v6.5M1255.6 1264.4h3.4M1547.3999999999999 1264.4h-3.4M1255.6 1219.4h6.5M1547.3999999999999 1219.4h-6.5M1255.6 1174.4h3.4M1547.3999999999999 1174.4h-3.4M1255.6 1129.4h6.5M1547.3999999999999 1129.4h-6.5M1255.6 1084.4h3.4M1547.3999999999999 1084.4h-3.4M1255.6 1039.4h6.5M1547.3999999999999 1039.4h-6.5M1255.6 994.4h3.4M1547.3999999999999 994.4h-3.4M1255.6 949.4h6.5M1547.3999999999999 949.4h-6.5" stroke="#000" stroke-width="1.3" fill="none"/>
<text x="1255.6" y="1341.4" class="tl" text-anchor="middle">0</text>
<text x="1345.6" y="1341.4" class="tl" text-anchor="middle">50</text>
<text x="1435.6" y="1341.4" class="tl" text-anchor="middle">100</text>
<text x="1525.6" y="1341.4" class="tl" text-anchor="middle">150</text>
<text transform="translate(151.3 1134.3999999999999) rotate(-90) scale(1.045 1)" text-anchor="middle" font-size="35">µm</text>
<rect x="1574.4" y="931.8" width="41.6" height="361.3" fill="url(#cbar)"/>
<text x="1633.5" y="948.9" font-size="43">2.0</text>
<text x="1633.5" y="1306.2" font-size="43">0.0</text>
<text transform="translate(1647 1103.8) rotate(90)" text-anchor="middle" font-size="44.5">PC (µA)</text>
<text transform="translate(369.8 1379.8) scale(1.06 1)" text-anchor="middle" font-size="35">µm</text>
<text transform="translate(713.4 1379.8) scale(1.06 1)" text-anchor="middle" font-size="35">µm</text>
<text transform="translate(1057.2 1379.8) scale(1.06 1)" text-anchor="middle" font-size="35">µm</text>
<text transform="translate(1401.2 1379.8) scale(1.06 1)" text-anchor="middle" font-size="35">µm</text>
<defs><linearGradient id="h00b" x1="0" y1="440.8" x2="0" y2="834.8" gradientUnits="userSpaceOnUse"><stop offset="0.0000" stop-color="#000000"/><stop offset="0.1259" stop-color="#040404"/><stop offset="0.1437" stop-color="#171717"/><stop offset="0.1538" stop-color="#2b2b2b"/><stop offset="0.1614" stop-color="#404040"/><stop offset="0.1741" stop-color="#808080"/><stop offset="0.1893" stop-color="#9e9e9e"/><stop offset="0.2071" stop-color="#bfbfbf"/><stop offset="0.2325" stop-color="#dbdbdb"/><stop offset="0.2538" stop-color="#d5d5d5"/><stop offset="0.2792" stop-color="#c9c9c9"/><stop offset="0.3452" stop-color="#c6c6c6"/><stop offset="0.4315" stop-color="#c1c1c1"/><stop offset="0.5076" stop-color="#bbbbbb"/><stop offset="0.6345" stop-color="#b2b2b2"/><stop offset="0.7614" stop-color="#aaaaaa"/><stop offset="0.8756" stop-color="#9f9f9f"/><stop offset="0.9188" stop-color="#999999"/><stop offset="0.9442" stop-color="#757575"/><stop offset="1.0000" stop-color="#5e5e5e"/></linearGradient><linearGradient id="h00s0" x1="0" y1="440.8" x2="0" y2="834.8" gradientUnits="userSpaceOnUse" gradientTransform="translate(0 -8)"><stop offset="0.0000" stop-color="#000000"/><stop offset="0.1259" stop-color="#040404"/><stop offset="0.1437" stop-color="#171717"/><stop offset="0.1538" stop-color="#2b2b2b"/><stop offset="0.1614" stop-color="#404040"/><stop offset="0.1741" stop-color="#808080"/><stop offset="0.1893" stop-color="#9e9e9e"/><stop offset="0.2071" stop-color="#bfbfbf"/><stop offset="0.2325" stop-color="#dbdbdb"/><stop offset="0.2538" stop-color="#d5d5d5"/><stop offset="0.2792" stop-color="#c9c9c9"/><stop offset="0.3452" stop-color="#c6c6c6"/><stop offset="0.4315" stop-color="#c1c1c1"/><stop offset="0.5076" stop-color="#bbbbbb"/><stop offset="0.6345" stop-color="#b2b2b2"/><stop offset="0.7614" stop-color="#aaaaaa"/><stop offset="0.8756" stop-color="#9f9f9f"/><stop offset="0.9188" stop-color="#999999"/><stop offset="0.9442" stop-color="#757575"/><stop offset="1.0000" stop-color="#5e5e5e"/></linearGradient><linearGradient id="h00s0mg" gradientUnits="userSpaceOnUse" x1="486.2" y1="0" x2="514.2" y2="0"><stop offset="0" stop-color="#000"/><stop offset="1" stop-color="#fff"/></linearGradient><mask id="h00s0m" maskUnits="userSpaceOnUse" x="204.2" y="420.8" width="331.8" height="434.0"><rect x="204.2" y="420.8" width="331.8" height="434.0" fill="url(#h00s0mg)"/></mask><clipPath id="h00g0c"><rect x="204.2" y="538.8" width="331.8" height="316.0"/></clipPath><radialGradient id="h00g0"><stop offset="0" stop-color="#dadada" stop-opacity="1.0"/><stop offset="0.45" stop-color="#dadada" stop-opacity="0.750"/><stop offset="1" stop-color="#dadada" stop-opacity="0"/></radialGradient><radialGradient id="h00g1"><stop offset="0" stop-color="#ffffff" stop-opacity="1.0"/><stop offset="0.45" stop-color="#ffffff" stop-opacity="0.750"/><stop offset="1" stop-color="#ffffff" stop-opacity="0"/></radialGradient><radialGradient id="h00g2"><stop offset="0" stop-color="#dbdbdb" stop-opacity="0.8"/><stop offset="0.45" stop-color="#dbdbdb" stop-opacity="0.600"/><stop offset="1" stop-color="#dbdbdb" stop-opacity="0"/></radialGradient><radialGradient id="h00g3"><stop offset="0" stop-color="#bfbfbf" stop-opacity="0.8"/><stop offset="0.45" stop-color="#bfbfbf" stop-opacity="0.600"/><stop offset="1" stop-color="#bfbfbf" stop-opacity="0"/></radialGradient><radialGradient id="h00g4"><stop offset="0" stop-color="#8c8c8c" stop-opacity="0.6"/><stop offset="0.45" stop-color="#8c8c8c" stop-opacity="0.450"/><stop offset="1" stop-color="#8c8c8c" stop-opacity="0"/></radialGradient><radialGradient id="h00g5"><stop offset="0" stop-color="#8c8c8c" stop-opacity="0.6"/><stop offset="0.45" stop-color="#8c8c8c" stop-opacity="0.450"/><stop offset="1" stop-color="#8c8c8c" stop-opacity="0"/></radialGradient><radialGradient id="h00g6"><stop offset="0" stop-color="#999999" stop-opacity="0.6"/><stop offset="0.45" stop-color="#999999" stop-opacity="0.450"/><stop offset="1" stop-color="#999999" stop-opacity="0"/></radialGradient><radialGradient id="h00g7"><stop offset="0" stop-color="#8c8c8c" stop-opacity="0.6"/><stop offset="0.45" stop-color="#8c8c8c" stop-opacity="0.450"/><stop offset="1" stop-color="#8c8c8c" stop-opacity="0"/></radialGradient><linearGradient id="h01b" x1="0" y1="440.8" x2="0" y2="834.8" gradientUnits="userSpaceOnUse"><stop offset="0.0000" stop-color="#000000"/><stop offset="0.1396" stop-color="#040404"/><stop offset="0.1574" stop-color="#171717"/><stop offset="0.1675" stop-color="#2b2b2b"/><stop offset="0.1751" stop-color="#404040"/><stop offset="0.1878" stop-color="#808080"/><stop offset="0.2030" stop-color="#9e9e9e"/><stop offset="0.2208" stop-color="#bfbfbf"/><stop offset="0.2462" stop-color="#d9d9d9"/><stop offset="0.2690" stop-color="#e3e3e3"/><stop offset="0.3046" stop-color="#e7e7e7"/><stop offset="0.4315" stop-color="#e2e2e2"/><stop offset="0.4949" stop-color="#dddddd"/><stop offset="0.6091" stop-color="#d5d5d5"/><stop offset="0.7107" stop-color="#c9c9c9"/><stop offset="0.8122" stop-color="#bfbfbf"/><stop offset="0.8883" stop-color="#b5b5b5"/><stop offset="0.9239" stop-color="#a8a8a8"/><stop offset="0.9442" stop-color="#808080"/><stop offset="0.9645" stop-color="#757575"/><stop offset="1.0000" stop-color="#6b6b6b"/></linearGradient><linearGradient id="h01s0" x1="0" y1="440.8" x2="0" y2="834.8" gradientUnits="userSpaceOnUse" gradientTransform="translate(0 -9)"><stop offset="0.0000" stop-color="#000000"/><stop offset="0.1396" stop-color="#040404"/><stop offset="0.1574" stop-color="#171717"/><stop offset="0.1675" stop-color="#2b2b2b"/><stop offset="0.1751" stop-color="#404040"/><stop offset="0.1878" stop-color="#808080"/><stop offset="0.2030" stop-color="#9e9e9e"/><stop offset="0.2208" stop-color="#bfbfbf"/><stop offset="0.2462" stop-color="#d9d9d9"/><stop offset="0.2690" stop-color="#e3e3e3"/><stop offset="0.3046" stop-color="#e7e7e7"/><stop offset="0.4315" stop-color="#e2e2e2"/><stop offset="0.4949" stop-color="#dddddd"/><stop offset="0.6091" stop-color="#d5d5d5"/><stop offset="0.7107" stop-color="#c9c9c9"/><stop offset="0.8122" stop-color="#bfbfbf"/><stop offset="0.8883" stop-color="#b5b5b5"/><stop offset="0.9239" stop-color="#a8a8a8"/><stop offset="0.9442" stop-color="#808080"/><stop offset="0.9645" stop-color="#757575"/><stop offset="1.0000" stop-color="#6b6b6b"/></linearGradient><linearGradient id="h01s0mg" gradientUnits="userSpaceOnUse" x1="757.8" y1="0" x2="859.8" y2="0"><stop offset="0" stop-color="#000"/><stop offset="1" stop-color="#fff"/></linearGradient><mask id="h01s0m" maskUnits="userSpaceOnUse" x="547.8" y="420.8" width="331.8" height="434.0"><rect x="547.8" y="420.8" width="331.8" height="434.0" fill="url(#h01s0mg)"/></mask><linearGradient id="h01i" x1="0" y1="440.8" x2="0" y2="834.8" gradientUnits="userSpaceOnUse"><stop offset="0.2411" stop-color="#cccccc"/><stop offset="0.2716" stop-color="#c9c9c9"/><stop offset="0.3299" stop-color="#c3c3c3"/><stop offset="0.4315" stop-color="#bfbfbf"/><stop offset="0.4949" stop-color="#b9b9b9"/><stop offset="0.6599" stop-color="#b0b0b0"/><stop offset="0.8122" stop-color="#a3a3a3"/><stop offset="0.8883" stop-color="#9c9c9c"/><stop offset="0.9340" stop-color="#919191"/><stop offset="0.9645" stop-color="#808080"/></linearGradient><radialGradient id="h01g0"><stop offset="0" stop-color="#fafafa" stop-opacity="0.9"/><stop offset="0.45" stop-color="#fafafa" stop-opacity="0.675"/><stop offset="1" stop-color="#fafafa" stop-opacity="0"/></radialGradient><linearGradient id="h02b" x1="0" y1="440.8" x2="0" y2="834.8" gradientUnits="userSpaceOnUse"><stop offset="0.0000" stop-color="#000000"/><stop offset="0.1421" stop-color="#040404"/><stop offset="0.1599" stop-color="#171717"/><stop offset="0.1701" stop-color="#2b2b2b"/><stop offset="0.1777" stop-color="#404040"/><stop offset="0.2030" stop-color="#808080"/><stop offset="0.2335" stop-color="#a8a8a8"/><stop offset="0.2538" stop-color="#bdbdbd"/><stop offset="0.2741" stop-color="#c2c2c2"/><stop offset="0.3173" stop-color="#d6d6d6"/><stop offset="0.4315" stop-color="#d4d4d4"/><stop offset="0.4949" stop-color="#d0d0d0"/><stop offset="0.6599" stop-color="#c6c6c6"/><stop offset="0.7614" stop-color="#bdbdbd"/><stop offset="0.8629" stop-color="#adadad"/><stop offset="0.9188" stop-color="#9c9c9c"/><stop offset="0.9442" stop-color="#757575"/><stop offset="0.9772" stop-color="#616161"/><stop offset="1.0000" stop-color="#575757"/></linearGradient><linearGradient id="h02i" x1="0" y1="440.8" x2="0" y2="834.8" gradientUnits="userSpaceOnUse"><stop offset="0.2538" stop-color="#c4c4c4"/><stop offset="0.2792" stop-color="#c3c3c3"/><stop offset="0.3807" stop-color="#c1c1c1"/><stop offset="0.4949" stop-color="#b8b8b8"/><stop offset="0.6599" stop-color="#ababab"/><stop offset="0.7614" stop-color="#a3a3a3"/><stop offset="0.8629" stop-color="#999999"/><stop offset="0.9289" stop-color="#8a8a8a"/><stop offset="0.9645" stop-color="#757575"/></linearGradient><radialGradient id="h02g0"><stop offset="0" stop-color="#cfcfcf" stop-opacity="1.0"/><stop offset="0.45" stop-color="#cfcfcf" stop-opacity="0.750"/><stop offset="1" stop-color="#cfcfcf" stop-opacity="0"/></radialGradient><radialGradient id="h02g1"><stop offset="0" stop-color="#cfcfcf" stop-opacity="1.0"/><stop offset="0.45" stop-color="#cfcfcf" stop-opacity="0.750"/><stop offset="1" stop-color="#cfcfcf" stop-opacity="0"/></radialGradient><radialGradient id="h02g2"><stop offset="0" stop-color="#c2c2c2" stop-opacity="0.8"/><stop offset="0.45" stop-color="#c2c2c2" stop-opacity="0.600"/><stop offset="1" stop-color="#c2c2c2" stop-opacity="0"/></radialGradient><radialGradient id="h02g3"><stop offset="0" stop-color="#c2c2c2" stop-opacity="0.8"/><stop offset="0.45" stop-color="#c2c2c2" stop-opacity="0.600"/><stop offset="1" stop-color="#c2c2c2" stop-opacity="0"/></radialGradient><radialGradient id="h02g4"><stop offset="0" stop-color="#dfdfdf" stop-opacity="0.7"/><stop offset="0.45" stop-color="#dfdfdf" stop-opacity="0.525"/><stop offset="1" stop-color="#dfdfdf" stop-opacity="0"/></radialGradient><radialGradient id="h02g5"><stop offset="0" stop-color="#d9d9d9" stop-opacity="0.5"/><stop offset="0.45" stop-color="#d9d9d9" stop-opacity="0.375"/><stop offset="1" stop-color="#d9d9d9" stop-opacity="0"/></radialGradient><radialGradient id="h02g6"><stop offset="0" stop-color="#c4c4c4" stop-opacity="0.6"/><stop offset="0.45" stop-color="#c4c4c4" stop-opacity="0.450"/><stop offset="1" stop-color="#c4c4c4" stop-opacity="0"/></radialGradient><radialGradient id="h02g7"><stop offset="0" stop-color="#5c5c5c" stop-opacity="1.0"/><stop offset="0.45" stop-color="#5c5c5c" stop-opacity="0.750"/><stop offset="1" stop-color="#5c5c5c" stop-opacity="0"/></radialGradient><radialGradient id="h02g8"><stop offset="0" stop-color="#999999" stop-opacity="0.8"/><stop offset="0.45" stop-color="#999999" stop-opacity="0.600"/><stop offset="1" stop-color="#999999" stop-opacity="0"/></radialGradient><radialGradient id="h02g9"><stop offset="0" stop-color="#3d3d3d" stop-opacity="1.0"/><stop offset="0.45" stop-color="#3d3d3d" stop-opacity="0.750"/><stop offset="1" stop-color="#3d3d3d" stop-opacity="0"/></radialGradient><radialGradient id="h02g10"><stop offset="0" stop-color="#363636" stop-opacity="1.0"/><stop offset="0.45" stop-color="#363636" stop-opacity="0.750"/><stop offset="1" stop-color="#363636" stop-opacity="0"/></radialGradient><linearGradient id="h03b" x1="0" y1="440.8" x2="0" y2="834.8" gradientUnits="userSpaceOnUse"><stop offset="0.0000" stop-color="#000000"/><stop offset="0.1294" stop-color="#040404"/><stop offset="0.1472" stop-color="#171717"/><stop offset="0.1624" stop-color="#2b2b2b"/><stop offset="0.1726" stop-color="#404040"/><stop offset="0.1944" stop-color="#808080"/><stop offset="0.2411" stop-color="#919191"/><stop offset="0.2792" stop-color="#adadad"/><stop offset="0.3299" stop-color="#bfbfbf"/><stop offset="0.4949" stop-color="#c1c1c1"/><stop offset="0.6599" stop-color="#b2b2b2"/><stop offset="0.8122" stop-color="#a6a6a6"/><stop offset="0.8934" stop-color="#8f8f8f"/><stop offset="0.9239" stop-color="#787878"/><stop offset="0.9492" stop-color="#666666"/><stop offset="0.9772" stop-color="#595959"/><stop offset="1.0000" stop-color="#4f4f4f"/></linearGradient><linearGradient id="h03i" x1="0" y1="440.8" x2="0" y2="834.8" gradientUnits="userSpaceOnUse"><stop offset="0.2411" stop-color="#bdbdbd"/><stop offset="0.2792" stop-color="#bfbfbf"/><stop offset="0.3807" stop-color="#bebebe"/><stop offset="0.4949" stop-color="#b2b2b2"/><stop offset="0.6599" stop-color="#ababab"/><stop offset="0.8122" stop-color="#a1a1a1"/><stop offset="0.9010" stop-color="#8f8f8f"/><stop offset="0.9391" stop-color="#7a7a7a"/></linearGradient><radialGradient id="h03g0"><stop offset="0" stop-color="#d4d4d4" stop-opacity="0.8"/><stop offset="0.45" stop-color="#d4d4d4" stop-opacity="0.600"/><stop offset="1" stop-color="#d4d4d4" stop-opacity="0"/></radialGradient><radialGradient id="h03g1"><stop offset="0" stop-color="#d4d4d4" stop-opacity="0.8"/><stop offset="0.45" stop-color="#d4d4d4" stop-opacity="0.600"/><stop offset="1" stop-color="#d4d4d4" stop-opacity="0"/></radialGradient><radialGradient id="h03g2"><stop offset="0" stop-color="#d6d6d6" stop-opacity="0.8"/><stop offset="0.45" stop-color="#d6d6d6" stop-opacity="0.600"/><stop offset="1" stop-color="#d6d6d6" stop-opacity="0"/></radialGradient><radialGradient id="h03g3"><stop offset="0" stop-color="#d4d4d4" stop-opacity="0.8"/><stop offset="0.45" stop-color="#d4d4d4" stop-opacity="0.600"/><stop offset="1" stop-color="#d4d4d4" stop-opacity="0"/></radialGradient><radialGradient id="h03g4"><stop offset="0" stop-color="#c4c4c4" stop-opacity="0.6"/><stop offset="0.45" stop-color="#c4c4c4" stop-opacity="0.450"/><stop offset="1" stop-color="#c4c4c4" stop-opacity="0"/></radialGradient><radialGradient id="h03g5"><stop offset="0" stop-color="#595959" stop-opacity="0.6"/><stop offset="0.45" stop-color="#595959" stop-opacity="0.450"/><stop offset="1" stop-color="#595959" stop-opacity="0"/></radialGradient><radialGradient id="h03g6"><stop offset="0" stop-color="#6e6e6e" stop-opacity="1.0"/><stop offset="0.45" stop-color="#6e6e6e" stop-opacity="0.750"/><stop offset="1" stop-color="#6e6e6e" stop-opacity="0"/></radialGradient><radialGradient id="h03g7"><stop offset="0" stop-color="#757575" stop-opacity="1.0"/><stop offset="0.45" stop-color="#757575" stop-opacity="0.750"/><stop offset="1" stop-color="#757575" stop-opacity="0"/></radialGradient><radialGradient id="h03g8"><stop offset="0" stop-color="#4c4c4c" stop-opacity="1.0"/><stop offset="0.45" stop-color="#4c4c4c" stop-opacity="0.750"/><stop offset="1" stop-color="#4c4c4c" stop-opacity="0"/></radialGradient><radialGradient id="h03g9"><stop offset="0" stop-color="#303030" stop-opacity="1.0"/><stop offset="0.45" stop-color="#303030" stop-opacity="0.750"/><stop offset="1" stop-color="#303030" stop-opacity="0"/></radialGradient><radialGradient id="h03g10"><stop offset="0" stop-color="#262626" stop-opacity="1.0"/><stop offset="0.45" stop-color="#262626" stop-opacity="0.750"/><stop offset="1" stop-color="#262626" stop-opacity="0"/></radialGradient><radialGradient id="h03g11"><stop offset="0" stop-color="#4c4c4c" stop-opacity="1.0"/><stop offset="0.45" stop-color="#4c4c4c" stop-opacity="0.750"/><stop offset="1" stop-color="#4c4c4c" stop-opacity="0"/></radialGradient><linearGradient id="h10b" x1="0" y1="915.4" x2="0" y2="1309.4" gradientUnits="userSpaceOnUse"><stop offset="0.0000" stop-color="#000000"/><stop offset="0.1218" stop-color="#040404"/><stop offset="0.1396" stop-color="#171717"/><stop offset="0.1497" stop-color="#2b2b2b"/><stop offset="0.1574" stop-color="#404040"/><stop offset="0.1701" stop-color="#808080"/><stop offset="0.1853" stop-color="#9e9e9e"/><stop offset="0.2030" stop-color="#bfbfbf"/><stop offset="0.2284" stop-color="#e6e6e6"/><stop offset="0.2335" stop-color="#f2f2f2"/><stop offset="0.2462" stop-color="#f1f1f1"/><stop offset="0.2563" stop-color="#e2e2e2"/><stop offset="0.2792" stop-color="#cccccc"/><stop offset="0.3223" stop-color="#c9c9c9"/><stop offset="0.3807" stop-color="#c7c7c7"/><stop offset="0.4569" stop-color="#c2c2c2"/><stop offset="0.5457" stop-color="#b5b5b5"/><stop offset="0.6599" stop-color="#b0b0b0"/><stop offset="0.7614" stop-color="#a8a8a8"/><stop offset="0.8629" stop-color="#9c9c9c"/><stop offset="0.9188" stop-color="#959595"/><stop offset="0.9442" stop-color="#7a7a7a"/><stop offset="1.0000" stop-color="#6b6b6b"/></linearGradient><linearGradient id="h10s0" x1="0" y1="915.4" x2="0" y2="1309.4" gradientUnits="userSpaceOnUse" gradientTransform="translate(0 -5)"><stop offset="0.0000" stop-color="#000000"/><stop offset="0.1218" stop-color="#040404"/><stop offset="0.1396" stop-color="#171717"/><stop offset="0.1497" stop-color="#2b2b2b"/><stop offset="0.1574" stop-color="#404040"/><stop offset="0.1701" stop-color="#808080"/><stop offset="0.1853" stop-color="#9e9e9e"/><stop offset="0.2030" stop-color="#bfbfbf"/><stop offset="0.2284" stop-color="#e6e6e6"/><stop offset="0.2335" stop-color="#f2f2f2"/><stop offset="0.2462" stop-color="#f1f1f1"/><stop offset="0.2563" stop-color="#e2e2e2"/><stop offset="0.2792" stop-color="#cccccc"/><stop offset="0.3223" stop-color="#c9c9c9"/><stop offset="0.3807" stop-color="#c7c7c7"/><stop offset="0.4569" stop-color="#c2c2c2"/><stop offset="0.5457" stop-color="#b5b5b5"/><stop offset="0.6599" stop-color="#b0b0b0"/><stop offset="0.7614" stop-color="#a8a8a8"/><stop offset="0.8629" stop-color="#9c9c9c"/><stop offset="0.9188" stop-color="#959595"/><stop offset="0.9442" stop-color="#7a7a7a"/><stop offset="1.0000" stop-color="#6b6b6b"/></linearGradient><linearGradient id="h10s0mg" gradientUnits="userSpaceOnUse" x1="492.2" y1="0" x2="516.2" y2="0"><stop offset="0" stop-color="#000"/><stop offset="1" stop-color="#fff"/></linearGradient><mask id="h10s0m" maskUnits="userSpaceOnUse" x="204.2" y="895.4" width="331.8" height="434.0"><rect x="204.2" y="895.4" width="331.8" height="434.0" fill="url(#h10s0mg)"/></mask><radialGradient id="h10g0"><stop offset="0" stop-color="#f7f7f7" stop-opacity="0.9"/><stop offset="0.45" stop-color="#f7f7f7" stop-opacity="0.675"/><stop offset="1" stop-color="#f7f7f7" stop-opacity="0"/></radialGradient><radialGradient id="h10g1"><stop offset="0" stop-color="#cccccc" stop-opacity="0.6"/><stop offset="0.45" stop-color="#cccccc" stop-opacity="0.450"/><stop offset="1" stop-color="#cccccc" stop-opacity="0"/></radialGradient><radialGradient id="h10g2"><stop offset="0" stop-color="#c1c1c1" stop-opacity="0.6"/><stop offset="0.45" stop-color="#c1c1c1" stop-opacity="0.450"/><stop offset="1" stop-color="#c1c1c1" stop-opacity="0"/></radialGradient><radialGradient id="h10g3"><stop offset="0" stop-color="#999999" stop-opacity="0.5"/><stop offset="0.45" stop-color="#999999" stop-opacity="0.375"/><stop offset="1" stop-color="#999999" stop-opacity="0"/></radialGradient><radialGradient id="h10g4"><stop offset="0" stop-color="#5c5c5c" stop-opacity="0.8"/><stop offset="0.45" stop-color="#5c5c5c" stop-opacity="0.600"/><stop offset="1" stop-color="#5c5c5c" stop-opacity="0"/></radialGradient><linearGradient id="h11b" x1="0" y1="915.4" x2="0" y2="1309.4" gradientUnits="userSpaceOnUse"><stop offset="0.0000" stop-color="#000000"/><stop offset="0.1371" stop-color="#040404"/><stop offset="0.1548" stop-color="#171717"/><stop offset="0.1650" stop-color="#2b2b2b"/><stop offset="0.1726" stop-color="#404040"/><stop offset="0.1853" stop-color="#808080"/><stop offset="0.2005" stop-color="#9e9e9e"/><stop offset="0.2183" stop-color="#bfbfbf"/><stop offset="0.2437" stop-color="#e0e0e0"/><stop offset="0.2487" stop-color="#f0f0f0"/><stop offset="0.3299" stop-color="#f2f2f2"/><stop offset="0.4949" stop-color="#e0e0e0"/><stop offset="0.5838" stop-color="#dedede"/><stop offset="0.6599" stop-color="#d4d4d4"/><stop offset="0.7614" stop-color="#c2c2c2"/><stop offset="0.8629" stop-color="#b8b8b8"/><stop offset="0.9188" stop-color="#b2b2b2"/><stop offset="0.9391" stop-color="#ababab"/><stop offset="0.9695" stop-color="#808080"/><stop offset="1.0000" stop-color="#707070"/></linearGradient><linearGradient id="h11s0" x1="0" y1="915.4" x2="0" y2="1309.4" gradientUnits="userSpaceOnUse" gradientTransform="translate(0 -6)"><stop offset="0.0000" stop-color="#000000"/><stop offset="0.1371" stop-color="#040404"/><stop offset="0.1548" stop-color="#171717"/><stop offset="0.1650" stop-color="#2b2b2b"/><stop offset="0.1726" stop-color="#404040"/><stop offset="0.1853" stop-color="#808080"/><stop offset="0.2005" stop-color="#9e9e9e"/><stop offset="0.2183" stop-color="#bfbfbf"/><stop offset="0.2437" stop-color="#e0e0e0"/><stop offset="0.2487" stop-color="#f0f0f0"/><stop offset="0.3299" stop-color="#f2f2f2"/><stop offset="0.4949" stop-color="#e0e0e0"/><stop offset="0.5838" stop-color="#dedede"/><stop offset="0.6599" stop-color="#d4d4d4"/><stop offset="0.7614" stop-color="#c2c2c2"/><stop offset="0.8629" stop-color="#b8b8b8"/><stop offset="0.9188" stop-color="#b2b2b2"/><stop offset="0.9391" stop-color="#ababab"/><stop offset="0.9695" stop-color="#808080"/><stop offset="1.0000" stop-color="#707070"/></linearGradient><linearGradient id="h11s0mg" gradientUnits="userSpaceOnUse" x1="829.8" y1="0" x2="859.8" y2="0"><stop offset="0" stop-color="#000"/><stop offset="1" stop-color="#fff"/></linearGradient><mask id="h11s0m" maskUnits="userSpaceOnUse" x="547.8" y="895.4" width="331.8" height="434.0"><rect x="547.8" y="895.4" width="331.8" height="434.0" fill="url(#h11s0mg)"/></mask><linearGradient id="h11i" x1="0" y1="915.4" x2="0" y2="1309.4" gradientUnits="userSpaceOnUse"><stop offset="0.2411" stop-color="#d9d9d9"/><stop offset="0.2640" stop-color="#cfcfcf"/><stop offset="0.3299" stop-color="#c1c1c1"/><stop offset="0.4949" stop-color="#b2b2b2"/><stop offset="0.6599" stop-color="#a8a8a8"/><stop offset="0.7614" stop-color="#9e9e9e"/><stop offset="0.8629" stop-color="#969696"/><stop offset="0.9289" stop-color="#949494"/><stop offset="0.9543" stop-color="#999999"/></linearGradient><radialGradient id="h11g0"><stop offset="0" stop-color="#f7f7f7" stop-opacity="0.9"/><stop offset="0.45" stop-color="#f7f7f7" stop-opacity="0.675"/><stop offset="1" stop-color="#f7f7f7" stop-opacity="0"/></radialGradient><linearGradient id="h12b" x1="0" y1="915.4" x2="0" y2="1309.4" gradientUnits="userSpaceOnUse"><stop offset="0.0000" stop-color="#000000"/><stop offset="0.1406" stop-color="#040404"/><stop offset="0.1584" stop-color="#171717"/><stop offset="0.1685" stop-color="#2b2b2b"/><stop offset="0.1761" stop-color="#404040"/><stop offset="0.1888" stop-color="#808080"/><stop offset="0.2041" stop-color="#9e9e9e"/><stop offset="0.2218" stop-color="#bfbfbf"/><stop offset="0.2472" stop-color="#dedede"/><stop offset="0.2487" stop-color="#f0f0f0"/><stop offset="0.2792" stop-color="#f5f5f5"/><stop offset="0.4061" stop-color="#f4f4f4"/><stop offset="0.4949" stop-color="#ededed"/><stop offset="0.5838" stop-color="#e3e3e3"/><stop offset="0.6599" stop-color="#d9d9d9"/><stop offset="0.7360" stop-color="#d1d1d1"/><stop offset="0.7868" stop-color="#c7c7c7"/><stop offset="0.8629" stop-color="#bdbdbd"/><stop offset="0.9137" stop-color="#b2b2b2"/><stop offset="0.9391" stop-color="#a8a8a8"/><stop offset="0.9772" stop-color="#808080"/><stop offset="1.0000" stop-color="#737373"/></linearGradient><linearGradient id="h12i" x1="0" y1="915.4" x2="0" y2="1309.4" gradientUnits="userSpaceOnUse"><stop offset="0.2538" stop-color="#dedede"/><stop offset="0.2792" stop-color="#d5d5d5"/><stop offset="0.3299" stop-color="#c9c9c9"/><stop offset="0.3934" stop-color="#c3c3c3"/><stop offset="0.4949" stop-color="#bababa"/><stop offset="0.5838" stop-color="#b2b2b2"/><stop offset="0.6599" stop-color="#ababab"/><stop offset="0.7614" stop-color="#a3a3a3"/><stop offset="0.8629" stop-color="#999999"/><stop offset="0.9289" stop-color="#949494"/><stop offset="0.9543" stop-color="#999999"/></linearGradient><radialGradient id="h12g0"><stop offset="0" stop-color="#ffffff" stop-opacity="0.9"/><stop offset="0.45" stop-color="#ffffff" stop-opacity="0.675"/><stop offset="1" stop-color="#ffffff" stop-opacity="0"/></radialGradient><radialGradient id="h12g1"><stop offset="0" stop-color="#f0f0f0" stop-opacity="0.6"/><stop offset="0.45" stop-color="#f0f0f0" stop-opacity="0.450"/><stop offset="1" stop-color="#f0f0f0" stop-opacity="0"/></radialGradient><linearGradient id="h13b" x1="0" y1="915.4" x2="0" y2="1309.4" gradientUnits="userSpaceOnUse" gradientTransform="translate(1255.6,0) skewY(-1.4) translate(-1255.6,0)"><stop offset="0.0000" stop-color="#000000"/><stop offset="0.1254" stop-color="#040404"/><stop offset="0.1431" stop-color="#171717"/><stop offset="0.1533" stop-color="#2b2b2b"/><stop offset="0.1609" stop-color="#404040"/><stop offset="0.1736" stop-color="#808080"/><stop offset="0.1888" stop-color="#9e9e9e"/><stop offset="0.2066" stop-color="#bfbfbf"/><stop offset="0.2320" stop-color="#e0e0e0"/><stop offset="0.2411" stop-color="#ededed"/><stop offset="0.3299" stop-color="#ececec"/><stop offset="0.4315" stop-color="#e6e6e6"/><stop offset="0.4949" stop-color="#dedede"/><stop offset="0.5838" stop-color="#d9d9d9"/><stop offset="0.6599" stop-color="#cfcfcf"/><stop offset="0.7360" stop-color="#c4c4c4"/><stop offset="0.7868" stop-color="#bfbfbf"/><stop offset="0.8629" stop-color="#b9b9b9"/><stop offset="0.9086" stop-color="#b2b2b2"/><stop offset="0.9289" stop-color="#999999"/><stop offset="0.9594" stop-color="#808080"/><stop offset="0.9848" stop-color="#707070"/><stop offset="1.0000" stop-color="#636363"/></linearGradient><linearGradient id="h13i" x1="0" y1="915.4" x2="0" y2="1309.4" gradientUnits="userSpaceOnUse"><stop offset="0.2411" stop-color="#c7c7c7"/><stop offset="0.2792" stop-color="#c3c3c3"/><stop offset="0.3807" stop-color="#bdbdbd"/><stop offset="0.4949" stop-color="#b2b2b2"/><stop offset="0.5838" stop-color="#ababab"/><stop offset="0.6599" stop-color="#a3a3a3"/><stop offset="0.7614" stop-color="#999999"/><stop offset="0.8629" stop-color="#8f8f8f"/><stop offset="0.9086" stop-color="#8a8a8a"/><stop offset="0.9391" stop-color="#8c8c8c"/></linearGradient><radialGradient id="h13g0"><stop offset="0" stop-color="#c2c2c2" stop-opacity="0.6"/><stop offset="0.45" stop-color="#c2c2c2" stop-opacity="0.450"/><stop offset="1" stop-color="#c2c2c2" stop-opacity="0"/></radialGradient><radialGradient id="h13g1"><stop offset="0" stop-color="#f1f1f1" stop-opacity="0.6"/><stop offset="0.45" stop-color="#f1f1f1" stop-opacity="0.450"/><stop offset="1" stop-color="#f1f1f1" stop-opacity="0"/></radialGradient></defs>
</svg></body></html>
